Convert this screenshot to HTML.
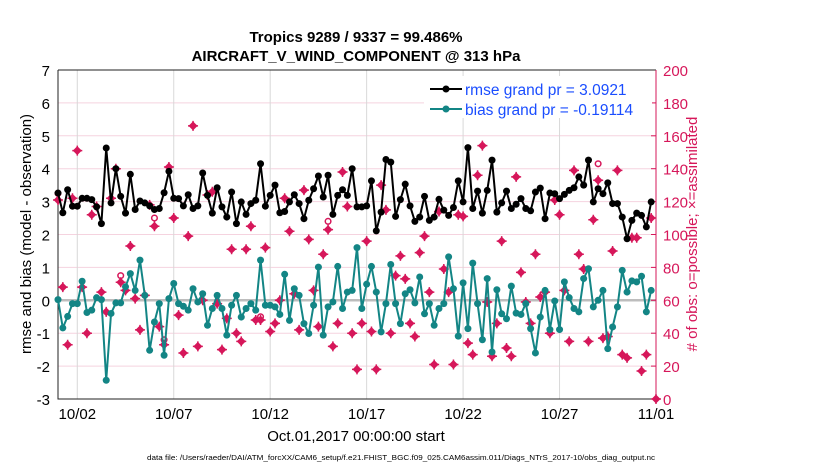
<!DOCTYPE html>
<html><head><meta charset="utf-8">
<style>
body{margin:0;background:#fff;}
svg{display:block;font-family:"Liberation Sans",Arial,sans-serif;}
</style></head>
<body>
<svg id="chart" width="830" height="470" viewBox="0 0 830 470" xmlns="http://www.w3.org/2000/svg">
<rect width="830" height="470" fill="#fff"/>
<g id="grid"></g>
<g id="axes"></g>
<g id="series"></g>
<text x="356" y="42" text-anchor="middle" font-size="15" font-weight="bold">Tropics 9289 / 9337 = 99.486%</text>
<text x="356" y="61" text-anchor="middle" font-size="15" font-weight="bold">AIRCRAFT_V_WIND_COMPONENT @ 313 hPa</text>
<text transform="translate(31,234) rotate(-90)" text-anchor="middle" font-size="15">rmse and bias (model - observation)</text>
<text transform="translate(697,234) rotate(-90)" text-anchor="middle" font-size="15" fill="#d6175a"># of obs: o=possible; ×=assimilated</text>
<text x="356" y="441" text-anchor="middle" font-size="15">Oct.01,2017 00:00:00 start</text>
<text x="147" y="460" font-size="7.5" textLength="508" lengthAdjust="spacingAndGlyphs">data file: /Users/raeder/DAI/ATM_forcXX/CAM6_setup/f.e21.FHIST_BGC.f09_025.CAM6assim.011/Diags_NTrS_2017-10/obs_diag_output.nc</text>
<g>
<rect x="424" y="76" width="228" height="42" fill="#fff"/>
<line x1="430" y1="89" x2="462" y2="89" stroke="#000" stroke-width="2"/>
<circle cx="446" cy="89" r="3.5" fill="#000"/>
<text x="465" y="95" font-size="15.5" fill="#1a4dff">rmse grand pr = 3.0921</text>
<line x1="430" y1="109" x2="462" y2="109" stroke="#138585" stroke-width="2"/>
<circle cx="446" cy="109" r="3.5" fill="#138585"/>
<text x="465" y="115" font-size="15.5" fill="#1a4dff">bias grand pr = -0.19114</text>
</g>
</svg>
<script>
const rmse=[3.26,2.66,3.36,2.86,2.86,3.1,3.1,3.06,2.84,2.33,4.63,2.96,4.0,3.16,2.65,3.83,2.76,3.02,2.96,2.87,2.76,2.79,3.27,3.92,3.1,3.09,2.87,3.21,2.79,2.87,3.87,3.19,2.65,3.42,2.84,2.53,3.29,2.33,2.99,2.61,2.94,3.04,4.15,2.86,3.19,3.5,2.66,2.7,2.99,3.21,2.94,2.48,3.04,3.39,3.78,3.14,3.8,2.61,3.19,3.36,3.19,4.0,2.84,2.84,2.87,3.63,2.11,2.68,4.28,4.2,2.55,3.06,3.53,2.87,2.4,2.53,3.16,2.43,2.53,3.07,2.74,2.58,2.82,3.63,2.99,4.64,2.79,3.32,2.65,3.34,4.26,2.68,2.96,3.32,2.79,2.92,3.09,2.79,2.72,3.29,3.41,2.48,3.26,3.24,3.09,3.22,3.34,3.42,3.75,3.5,4.26,2.99,3.39,3.24,3.57,2.94,2.94,2.53,1.87,2.43,2.65,2.58,2.23,2.99];
const bias=[0.02,-0.84,-0.49,-0.1,-0.1,0.58,-0.37,-0.3,0.08,0.02,-2.43,-0.4,-0.08,-0.08,0.41,0.81,0.3,1.22,0.15,-1.52,-0.66,-0.1,-1.67,0.05,0.51,-0.1,-0.18,-0.3,0.35,-0.05,0.2,-0.76,-0.25,0.15,-0.25,-1.06,-0.15,0.15,-0.51,-0.25,-0.1,-0.3,1.22,-0.15,-0.15,-0.2,-0.43,0.79,-0.61,0.35,0.15,-0.71,-1.01,-0.15,1.01,-1.06,-0.2,-0.05,1.03,-0.25,0.25,0.3,1.6,-0.25,0.49,1.03,0.25,-0.96,-0.1,1.09,-0.1,-0.71,0.2,0.32,-0.08,0.71,-0.41,-0.1,-0.76,-0.25,-0.1,1.32,0.35,-1.09,0.53,-0.86,1.13,-0.1,-1.2,0.66,-1.57,0.32,-0.41,-0.56,0.43,-0.39,-0.43,-0.1,-0.86,-1.6,-0.51,0.3,-0.89,-0.02,-0.89,0.56,0.08,-0.25,-0.35,0.66,0.96,-0.2,0,0.3,-1.47,-0.81,-0.2,0.91,0.25,0.59,0.56,0.73,-0.35,0.3];
const nUsed=[121,68,33,122,151,68,40,112,117,65,53,122,140,71,66,93,61,42,63,118,105,44,33,141,110,51,28,99,166,32,60,124,126,58,30,49,91,40,35,91,105,48,48,92,41,46,60,122,102,64,42,127,97,66,44,88,103,32,46,138,117,40,18,46,96,41,18,130,115,40,75,87,73,46,38,89,99,65,21,114,79,65,21,112,111,34,27,136,154,59,26,46,96,31,26,135,77,59,46,88,62,65,40,121,112,66,35,139,88,79,35,109,133,37,38,90,139,27,25,98,98,17,27,110,0];
const possIdx=[0,13,20,22,42,56,112];
const possVals=[125,75,110,36,50,108,143];
const yTicks=[-3,-2,-1,0,1,2,3,4,5,6,7];
const y2Ticks=[0,20,40,60,80,100,120,140,160,180,200];
const xTickDays=[1,6,11,16,21,26,31];
const xTickLabels=['10/02','10/07','10/12','10/17','10/22','10/27','11/01'];

const NS='http://www.w3.org/2000/svg';
const L=58,R=656,T=70,B=399;
const xS=d=>L+(R-L)*d/31;
const yS=v=>B-(B-T)*(v+3)/10;
const y2S=v=>B-(B-T)*v/200;
function mk(tag,attrs,parent){const e=document.createElementNS(NS,tag);for(const k in attrs)e.setAttribute(k,attrs[k]);parent.appendChild(e);return e;}
const grid=document.getElementById('grid'),axes=document.getElementById('axes'),ser=document.getElementById('series');

yTicks.forEach(t=>{
  if(t>-3&&t<7&&t!==0){const g=mk('line',{x1:L,x2:R,y1:yS(t),y2:yS(t),stroke:'#f5d3df','stroke-width':1},grid);
  
  }
  const tx=mk('text',{x:L-8,y:yS(t)+6,'text-anchor':'end','font-size':15},axes);tx.textContent=t;
  
  
});
xTickDays.forEach((d,i)=>{
  const g=mk('line',{x1:xS(d),x2:xS(d),y1:T,y2:B,stroke:'#d8d8d8','stroke-width':1},grid);
  
  
  const tx=mk('text',{x:xS(d),y:419,'text-anchor':'middle','font-size':15},axes);tx.textContent=xTickLabels[i];
  
  
});
const z=mk('line',{x1:L,x2:R,y1:yS(0),y2:yS(0),stroke:'#bdbdbd','stroke-width':2.5},grid);


y2Ticks.forEach(t=>{
  mk('line',{x1:R-5,x2:R,y1:y2S(t),y2:y2S(t),stroke:'#d6175a'},axes);
  const tx=mk('text',{x:R+7,y:y2S(t)+6,'font-size':15,fill:'#d6175a'},axes);tx.textContent=t;
  
  
});
const ax=mk('path',{d:`M${L},${T}V${B}H${R}M${L},${T}H${R}`,stroke:'#222',fill:'none','stroke-width':1},axes);


const ax2=mk('line',{x1:R,x2:R,y1:T,y2:B,stroke:'#d6175a','stroke-width':1},axes);



nUsed.forEach((v,i)=>{
  const cx=xS(i*0.25),cy=y2S(v);
  const g=mk('g',{},ser);
  
  
  mk('polygon',{points:`${cx},${cy-4.5} ${cx+4.5},${cy} ${cx},${cy+4.5} ${cx-4.5},${cy}`,fill:'#d6175a'},g);
  mk('path',{d:`M${cx-5},${cy}H${cx+5}M${cx},${cy-5}V${cy+5}`,stroke:'#d6175a','stroke-width':1.5},g);
});
possIdx.forEach((idx,j)=>{
  const c=mk('circle',{cx:xS(idx*0.25),cy:y2S(possVals[j]),r:2.8,fill:'none',stroke:'#d6175a','stroke-width':1.5},ser);
  
  
});
function line(vals,color,name){
  const p=mk('polyline',{points:vals.map((v,i)=>xS(i*0.25)+','+yS(v)).join(' '),fill:'none',stroke:color,'stroke-width':2},ser);
  
  
  vals.forEach((v,i)=>{
    const c=mk('circle',{cx:xS(i*0.25),cy:yS(v),r:3.5,fill:color},ser);
    
    
  });
}
line(rmse,'#000','rmse');
line(bias,'#138585','bias');
</script>
</body></html>
